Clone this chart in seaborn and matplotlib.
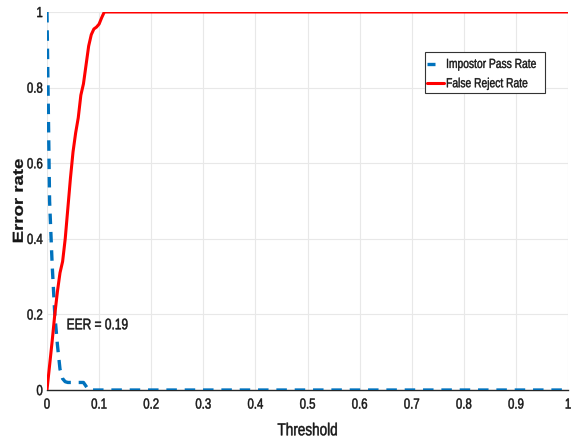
import matplotlib
matplotlib.use("Agg")
import matplotlib.pyplot as plt
import seaborn as sns
import pandas as pd
from matplotlib.lines import Line2D
from matplotlib.patches import Rectangle
from matplotlib.patheffects import AbstractPathEffect
from matplotlib.transforms import Affine2D

# Threshold sweep and the two error curves
thresholds = [0.0, 0.005, 0.01, 0.015, 0.02, 0.025, 0.03, 0.035, 0.04, 0.045,
              0.05, 0.055, 0.06, 0.065, 0.07, 0.075, 0.08, 0.085, 0.09, 0.095,
              0.10, 0.105, 0.11, 0.115, 0.12, 0.2, 0.3, 0.4, 0.5, 0.6, 0.7,
              0.8, 0.9, 1.0]
impostor_pass_rate = [1.0, 0.50, 0.33, 0.20, 0.12, 0.055, 0.03, 0.022, 0.02, 0.02,
                      0.02, 0.02, 0.02, 0.02, 0.02, 0.01, 0.0, 0.0, 0.0, 0.0,
                      0.0, 0.0, 0.0, 0.0, 0.0, 0.0, 0.0, 0.0, 0.0, 0.0, 0.0,
                      0.0, 0.0, 0.0]
false_reject_rate = [0.0, 0.065, 0.13, 0.20, 0.26, 0.31, 0.34, 0.40, 0.48, 0.56,
                     0.63, 0.68, 0.72, 0.78, 0.81, 0.86, 0.91, 0.94, 0.955, 0.96,
                     0.968, 0.985, 1.0, 1.0, 1.0, 1.0, 1.0, 1.0, 1.0, 1.0, 1.0,
                     1.0, 1.0, 1.0]
eer_value = 0.19
series_names = ["Impostor Pass Rate", "False Reject Rate"]
x_ticks = [0, 0.1, 0.2, 0.3, 0.4, 0.5, 0.6, 0.7, 0.8, 0.9, 1]
x_tick_labels = ["0", "0.1", "0.2", "0.3", "0.4", "0.5", "0.6", "0.7", "0.8", "0.9", "1"]
y_ticks = [0, 0.2, 0.4, 0.6, 0.8, 1]
y_tick_labels = ["0", "0.2", "0.4", "0.6", "0.8", "1"]

BLUE = "#0072BD"
RED = "#FF0000"
INK = "#161616"
TALL = 1.28  # vertical stretch that gives the narrow, tall lettering


class VStretch(AbstractPathEffect):
    """Draw text taller on screen, keeping its top, bottom or centre in place,
    with an optional thin outline in the text colour to thicken the strokes."""

    def __init__(self, sy=TALL, anchor="center", stroke=0.35):
        super().__init__()
        self._sy = sy
        self._anchor = anchor
        self._stroke = stroke

    def draw_path(self, renderer, gc, tpath, affine, rgbFace=None):
        ext = tpath.get_extents(affine)
        if self._anchor == "top":
            py = ext.y1
        elif self._anchor == "bottom":
            py = ext.y0
        else:
            py = 0.5 * (ext.y0 + ext.y1)
        stretch = affine + Affine2D().translate(0, -py).scale(1, self._sy).translate(0, py)
        if self._stroke and rgbFace is not None:
            gc0 = renderer.new_gc()
            gc0.copy_properties(gc)
            gc0.set_linewidth(self._stroke)
            gc0.set_foreground(rgbFace)
            gc0.set_joinstyle("round")
            renderer.draw_path(gc0, tpath, stretch, rgbFace)
            gc0.restore()
        else:
            renderer.draw_path(gc, tpath, stretch, rgbFace)


sns.set_theme(style="white")
plt.rcParams["font.family"] = ["Liberation Sans", "DejaVu Sans"]

df = pd.DataFrame({
    "Threshold": thresholds * 2,
    "Error rate": impostor_pass_rate + false_reject_rate,
    "Curve": [series_names[0]] * len(thresholds) + [series_names[1]] * len(thresholds),
})

fig = plt.figure(figsize=(5.75, 4.42), dpi=100)
ax = fig.add_axes([0.0817, 0.1176, 0.9063, 0.8553])

sns.lineplot(data=df, x="Threshold", y="Error rate", hue="Curve", style="Curve",
             palette={series_names[0]: BLUE, series_names[1]: RED},
             dashes={series_names[0]: (3.15, 2.35), series_names[1]: ""},
             ax=ax, legend=False, estimator=None, sort=False)
ax.lines[0].set_linewidth(2.4)
ax.lines[1].set_linewidth(2.2)
ax.lines[0].set_zorder(3)
ax.lines[1].set_zorder(4)

ax.set_xlim(0, 1)
ax.set_ylim(0, 1)
ax.set_xticks(x_ticks)
ax.set_xticklabels(x_tick_labels)
ax.set_yticks(y_ticks)
ax.set_yticklabels(y_tick_labels)
ax.grid(True, color="#e8e8e8", linewidth=0.8)
ax.set_axisbelow(True)
for side in ["top", "right", "left"]:
    ax.spines[side].set_visible(False)
ax.spines["bottom"].set_color("#262626")
ax.spines["bottom"].set_linewidth(1.0)
ax.spines["bottom"].set_zorder(2.5)
ax.tick_params(axis="both", direction="in", length=3.6, width=0.6, color="#262626",
               labelsize=8.2, labelcolor=INK)
ax.tick_params(axis="x", pad=6)
ax.tick_params(axis="y", pad=3)
for lab in ax.get_xticklabels():
    lab.set_path_effects([VStretch(TALL, "top")])
for lab in ax.get_yticklabels():
    lab.set_path_effects([VStretch(TALL, "center")])

ax.set_xlabel("Threshold", fontsize=9.75, color=INK, labelpad=9.5,
              path_effects=[VStretch(TALL, "top")])
ax.set_ylabel("Error rate", fontsize=10.45, fontweight="bold", color=INK, va="center",
              path_effects=[VStretch(TALL, "center", stroke=0.2)])
ax.yaxis.set_label_coords(-0.054, 0.5)

ax.text(0.0378, 0.1606, f"EER = {eer_value}", fontsize=8.6, color=INK,
        va="baseline", ha="left", zorder=6,
        path_effects=[VStretch(TALL, "bottom")])

# Legend: entries from legend(), boxed with a plain square frame
handles = [Line2D([], [], color=BLUE, lw=2.4, dashes=(2.4, 12)),
           Line2D([], [], color=RED, lw=2.2)]
leg = ax.legend(handles, series_names, loc="upper left",
                bbox_to_anchor=(0.7294, 0.875), frameon=False, fontsize=7.4,
                handlelength=1.65, handletextpad=0.2, borderpad=0,
                labelspacing=0.9, borderaxespad=0)
leg.set_zorder(6)
for t in leg.get_texts():
    t.set_color(INK)
    t.set_path_effects([VStretch(TALL, "center", stroke=0.3)])
ax.add_patch(Rectangle((0.7255, 0.7865), 0.2304, 0.1065, transform=ax.transAxes,
                       facecolor="white", edgecolor="#333333", linewidth=0.8,
                       zorder=5.5))

fig.savefig("out.png", dpi=100)
